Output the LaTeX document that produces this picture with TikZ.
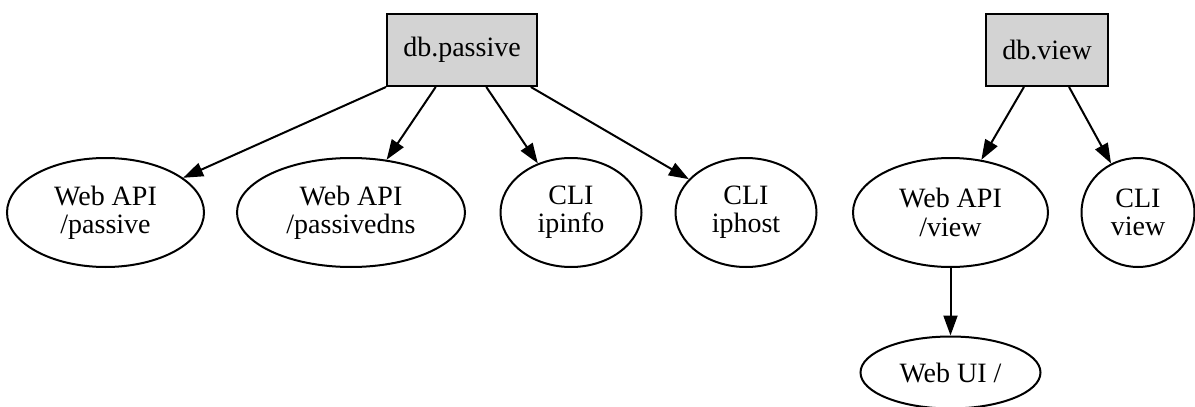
\documentclass[tikz,border=0pt]{standalone}
\usepackage{fontspec}
\setmainfont{Liberation Serif}
\usetikzlibrary{shapes.geometric,arrows.meta,calc}

\definecolor{dbfill}{HTML}{D3D3D3}

\tikzset{
  every node/.style={font=\fontsize{14}{14.2}\selectfont, text=black, align=center, inner sep=0pt},
  dbbox/.style={draw=black, line width=1pt, fill=dbfill, rectangle, minimum height=36pt},
  consumer/.style={draw=black, line width=1pt, ellipse, minimum height=54.5pt},
  link/.style={draw=black, line width=1pt, -{Triangle[length=10pt,width=7pt]}},
}

\begin{document}
\begin{tikzpicture}[x=0.5pt, y=-0.5pt]
  \useasboundingbox (0,0) rectangle (1195,407);

  % data stores
  \node[dbbox, minimum width=75pt] (dbp) at (462,50) {db.passive};
  \node[dbbox, minimum width=61pt] (dbv) at (1047,50) {db.view};

  % consumers
  \node[consumer, minimum width=98.5pt] (wp)  at (105.5,212.5) {Web API\\/passive};
  \node[consumer, minimum width=114pt]  (wpd) at (351,212.5)   {Web API\\/passivedns};
  \node[consumer, minimum width=70.5pt] (cii) at (571,212.5)   {CLI\\ipinfo};
  \node[consumer, minimum width=70.5pt] (cih) at (746,212.5)   {CLI\\iphost};
  \node[consumer, minimum width=97.5pt] (wv)  at (950.5,212.5) {Web API\\/view};
  \node[consumer, minimum width=56.5pt] (cv)  at (1138,212.5)  {CLI\\view};
  \node[consumer, minimum width=90pt, minimum height=36pt] (wu) at (950.5,372.5) {Web UI /};

  % edge origins along the bottom of the boxes
  \coordinate (p1) at (dbp.south west);
  \coordinate (p2) at ($(dbp.south west)!0.327!(dbp.south east)$);
  \coordinate (p3) at ($(dbp.south west)!0.66!(dbp.south east)$);
  \coordinate (p4) at ($(dbp.south west)!0.953!(dbp.south east)$);
  \coordinate (v1) at ($(dbv.south west)!0.314!(dbv.south east)$);
  \coordinate (v2) at ($(dbv.south west)!0.678!(dbv.south east)$);

  \draw[link] (p1) -- (wp);
  \draw[link] (p2) -- (wpd);
  \draw[link] (p3) -- (cii);
  \draw[link] (p4) -- (cih);
  \draw[link] (v1) -- (wv);
  \draw[link] (v2) -- (cv);
  \draw[link] (wv) -- (wu);
\end{tikzpicture}
\end{document}
